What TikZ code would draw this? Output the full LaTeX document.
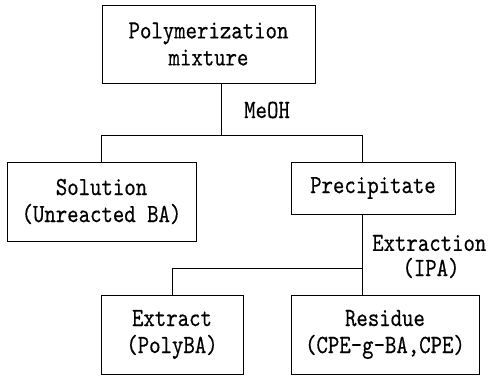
\documentclass[tikz,border=0pt]{standalone}
\usepackage{fontspec}
\newfontfamily\boxfont{lmmono10-regular.otf}[FakeStretch=0.83,FakeBold=0.4]

\begin{document}
\begin{tikzpicture} [x=1pt,y=-1pt]

\useasboundingbox (0,0) rectangle (491,378);
\tikzset{box/.style={draw, line width=0.9pt, inner sep=0pt, align=center,
  font=\boxfont\fontsize{26.2}{27}\selectfont}}
\tikzset{lbl/.style={inner sep=0pt, align=center, font=\boxfont\fontsize{26.2}{25}\selectfont}}

\node [box, minimum width=213, minimum height=78] (mix) at (208.5,44) {Polymerization\\mixture};
\node [box, minimum width=189, minimum height=79] (sol) at (101.5,201.5) {Solution\\(Unreacted BA)};
\node [box, minimum width=164, minimum height=52] (prec) at (373,188) {Precipitate};
\node [box, minimum width=142, minimum height=79] (extr) at (172,334.5) {Extract\\(PolyBA)};
\node [box, minimum width=188, minimum height=79] (res) at (385,334.5) {Residue\\(CPE-g-BA,CPE)};

\coordinate (j1) at (221,135);
\coordinate (j2) at (362,135);
\coordinate (j3) at (362,268);

\draw [line width=0.9pt] (mix.south -| j1) -- (j1);
\draw [line width=0.9pt] (sol.north) |- (j2) -- (prec.north -| j2);
\draw [line width=0.9pt] (prec.south -| j3) -- (res.north -| j3);
\draw [line width=0.9pt] (extr.north) |- (j3);

\node [lbl, anchor=west] (meoh) at (244,110) {MeOH};
\node [lbl, anchor=west] (ext) at (372,243) {Extraction};
\node [lbl] (ipa) at (431,268) {(IPA)};

\end{tikzpicture}
\end{document}
